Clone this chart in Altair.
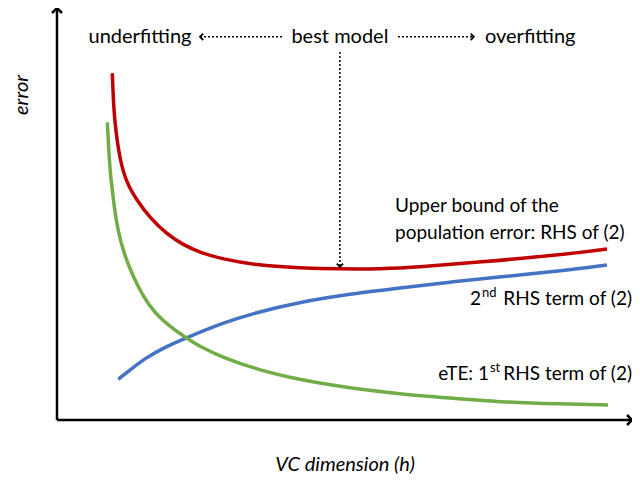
import altair as alt
import pandas as pd

# ---- data (arbitrary units: axis frame is 0..100 on both axes) ----
red_x = [9.62, 9.74, 9.91, 10.12, 10.38, 10.96, 12.12, 13.86, 16.17, 19.08, 21.97, 24.87, 28.70, 34.43, 42.26, 49.22, 56.17, 63.13, 73.57, 85.74, 95.65]
red_y = [84.15, 79.61, 75.24, 71.84, 68.76, 63.11, 57.45, 53.40, 49.03, 45.15, 42.48, 40.66, 39.08, 37.62, 36.89, 36.65, 36.65, 37.14, 38.35, 39.81, 41.50]
green_x = [8.75, 8.92, 9.10, 9.33, 9.69, 9.91, 10.66, 11.83, 13.27, 15.01, 17.04, 19.65, 22.56, 24.87, 28.70, 34.43, 42.26, 50.96, 59.65, 68.35, 77.04, 87.48, 95.83]
green_y = [72.26, 67.96, 63.11, 59.22, 55.02, 52.18, 45.32, 39.64, 34.78, 29.93, 25.90, 22.65, 19.83, 17.79, 15.29, 12.38, 9.71, 7.77, 6.31, 5.34, 4.37, 3.88, 3.64]
blue_x = [10.66, 12.70, 15.30, 18.78, 22.56, 28.64, 34.43, 42.26, 50.96, 59.65, 68.35, 77.04, 87.48, 95.65]
blue_y = [9.88, 12.14, 14.98, 17.72, 19.98, 23.47, 26.04, 28.64, 30.58, 32.04, 33.50, 34.71, 36.17, 37.62]

series_names = ["upper", "second", "first"]
series_colors = ["#C00000", "#4472C4", "#70AD47"]

# annotation labels
top_labels = ["underfitting", "best model", "overfitting"]
top_x = [14.43, 49.2, 82.3]
top_y = [93.0, 93.0, 93.0]

left_labels = ["Upper bound of the", "population error: RHS of (2)", "nd", "st"]
left_x = [58.78, 58.78, 73.91, 75.30]
left_y = [50.5, 43.9, 29.85, 11.65]
left_size = [19, 19, 13, 13]

right_labels = ["2", "RHS term of (2)", "eTE: 1", "RHS term of (2)"]
right_x = [73.74, 100.0, 75.13, 100.0]
right_y = [27.9, 27.9, 9.71, 9.71]

axis_titles = ["VC dimension (h)", "error"]
axis_title_x = [50.1, -6.09]
axis_title_y = [-10.9, 78.9]
axis_title_angle = [0, 270]

# dotted arrows (from -> to)
arrow_x1 = [39.13, 59.3, 49.2]
arrow_x2 = [24.87, 72.5, 49.2]
arrow_y1 = [93.0, 93.0, 89.3]
arrow_y2 = [93.0, 93.0, 37.2]
arrow_heads = ["M1,-1L0,0L1,1", "M-1,-1L0,0L-1,1", "M-1,-1L0,0L1,-1"]

# axis frame lines
frame_x1 = [0, 0]
frame_x2 = [0, 100]
frame_y1 = [0, 0]
frame_y2 = [100, 0]
frame_head_x = [0, 100]
frame_head_y = [100, 0]
frame_heads = ["M-1,1L0,0L1,1", "M-1,-1L0,0L-1,1"]

FONT = "Lato"

xs = alt.Scale(domain=[0, 100], nice=False, zero=False)
ys = alt.Scale(domain=[0, 100], nice=False, zero=False)


def xy():
    return dict(x=alt.X("x:Q", scale=xs, axis=None), y=alt.Y("y:Q", scale=ys, axis=None))


curves = pd.DataFrame(
    [{"x": a, "y": b, "s": "upper", "o": i} for i, (a, b) in enumerate(zip(red_x, red_y))]
    + [{"x": a, "y": b, "s": "second", "o": i} for i, (a, b) in enumerate(zip(blue_x, blue_y))]
    + [{"x": a, "y": b, "s": "first", "o": i} for i, (a, b) in enumerate(zip(green_x, green_y))]
)

lines = alt.Chart(curves).mark_line(strokeWidth=3.5, interpolate="basis").encode(
    **xy(),
    color=alt.Color("s:N", scale=alt.Scale(domain=series_names, range=series_colors), legend=None),
    detail="s:N",
    order="o:Q",
)

frame_df = pd.DataFrame({"x": frame_x1, "x2": frame_x2, "y": frame_y1, "y2": frame_y2})
frame = alt.Chart(frame_df).mark_rule(color="black", strokeWidth=2.5).encode(**xy(), x2="x2:Q", y2="y2:Q")
frame_head_df = pd.DataFrame({"x": frame_head_x, "y": frame_head_y, "shape": frame_heads})
frame_head = alt.Chart(frame_head_df).mark_point(filled=False, color="black", strokeWidth=2.5, size=100, opacity=1).encode(
    **xy(), shape=alt.Shape("shape:N", scale=None)
)

arrow_df = pd.DataFrame({"x": arrow_x1, "x2": arrow_x2, "y": arrow_y1, "y2": arrow_y2})
arrows = alt.Chart(arrow_df).mark_rule(color="black", strokeWidth=1.5, strokeDash=[2, 2]).encode(**xy(), x2="x2:Q", y2="y2:Q")
head_df = pd.DataFrame({"x": arrow_x2, "y": arrow_y2, "shape": arrow_heads})
heads = alt.Chart(head_df).mark_point(filled=False, color="black", strokeWidth=1.8, size=40, opacity=1).encode(
    **xy(), shape=alt.Shape("shape:N", scale=None)
)

top_df = pd.DataFrame({"x": top_x, "y": top_y, "t": top_labels})
top_text = alt.Chart(top_df).mark_text(font=FONT, fontSize=20, align="center", baseline="middle", color="black").encode(
    **xy(), text="t:N"
)

left_df = pd.DataFrame({"x": left_x, "y": left_y, "t": left_labels, "fs": left_size})
left_text = alt.Chart(left_df).mark_text(font=FONT, align="left", baseline="alphabetic", color="black").encode(
    **xy(), text="t:N", size=alt.Size("fs:Q", scale=None)
)

right_df = pd.DataFrame({"x": right_x, "y": right_y, "t": right_labels})
right_text = alt.Chart(right_df).mark_text(font=FONT, fontSize=19, align="right", baseline="alphabetic", color="black").encode(
    **xy(), text="t:N"
)

at_df = pd.DataFrame({"x": axis_title_x, "y": axis_title_y, "t": axis_titles, "a": axis_title_angle})
at_text = alt.Chart(at_df).mark_text(font=FONT, fontSize=20, fontStyle="italic", align="center", baseline="middle", color="black").encode(
    **xy(), text="t:N", angle=alt.Angle("a:Q", scale=None)
)

chart = alt.layer(frame, frame_head, lines, arrows, heads, top_text, left_text, right_text, at_text).properties(
    width=575, height=412,
    padding={"left": 49, "top": 0, "right": 0, "bottom": 63},
    autosize=alt.AutoSizeParams(type="none"),
).configure_view(stroke=None)

chart.save("out.html", embed_options={"renderer": "svg", "actions": False})
